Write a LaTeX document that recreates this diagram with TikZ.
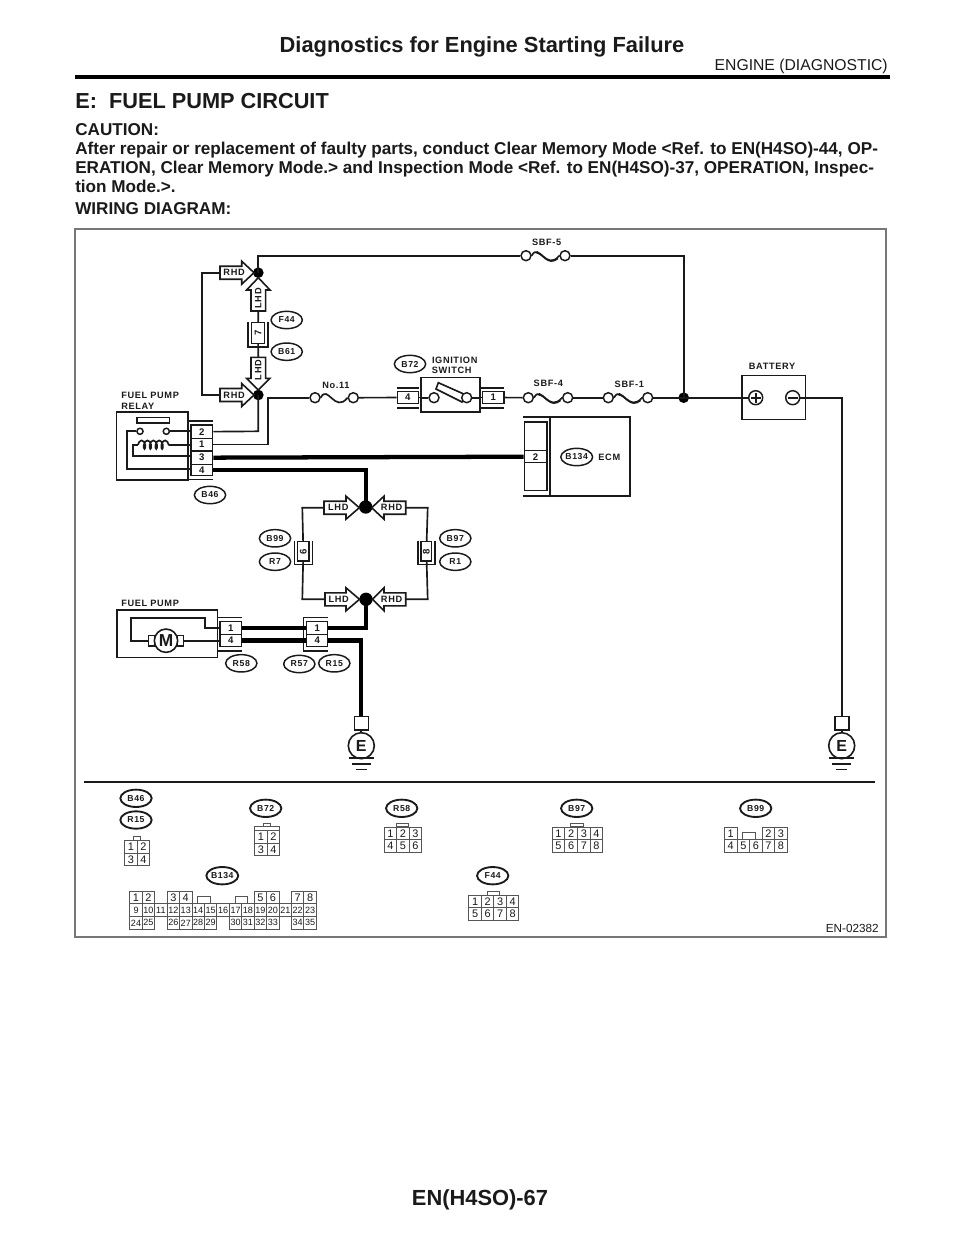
\documentclass[tikz,border=0pt]{standalone}
\usepackage{fontspec}
\setmainfont{Liberation Sans}
\newfontfamily\lblf[LetterSpace=7]{Liberation Sans}
\usetikzlibrary{decorations.pathmorphing,calc,shapes.geometric}
\definecolor{ink}{HTML}{1A1A1A}
\definecolor{gridc}{HTML}{555555}
\definecolor{framec}{HTML}{777777}
\newcommand\fs[1]{\fontsize{#1pt}{#1pt}\selectfont}
\tikzset{
  wire/.style={line width=1.25pt,draw=ink,line join=miter},
  fatwire/.style={line width=3.2pt,draw=black,line join=miter},
  shp/.style={line width=1.2pt,draw=ink,fill=white},
  txt/.style={inner sep=0pt,text=ink},
  lbl/.style={inner sep=0pt,text=ink,font=\lblf\bfseries\fs{6.9}},
  tag/.style={ellipse,draw=ink,line width=1.1pt,fill=white,inner sep=0pt,minimum width=23.5pt,minimum height=13pt,text=ink,font=\lblf\bfseries\fs{6.5}},
  btag/.style={tag,line width=1.4pt},
  pinb/.style={draw=ink,line width=1.1pt,fill=white,inner sep=0pt,text=ink,font=\bfseries\fs{7.2}},
  dot/.style={circle,fill=black,inner sep=0pt},
  ring/.style={circle,draw=ink,line width=1.1pt,fill=white,inner sep=0pt,minimum size=7.5pt},
  cellb/.style={draw=gridc,line width=.75pt,fill=white,inner sep=0pt,anchor=north west,text=ink},
  bar/.style={line width=1.2pt,draw=ink},
  body/.style={txt,font=\bfseries\fs{12.85},anchor=base west},
}
% rectangular pin node from corners
\newcommand\pinnode[6]{\node[pinb,minimum width={(#4-#2)*.75pt},minimum height={(#5-#3)*.75pt}] (#1) at ({(#2+#4)/2},{(#3+#5)/2}) {#6};}
\newcommand\vpinnode[6]{\node[pinb,minimum width={(#5-#3)*.75pt},minimum height={(#4-#2)*.75pt},rotate=90] (#1) at ({(#2+#4)/2},{(#3+#5)/2}) {#6};}
% horizontal arrow: name, tail, base, tip, y, label
\newcommand\harr[6]{%
 \draw[shp] (#2,#5-6.5) -- (#3,#5-6.5) -- (#3,#5-11.5) -- (#4,#5) -- (#3,#5+11.5) -- (#3,#5+6.5) -- (#2,#5+6.5) -- cycle;
 \coordinate (#1) at (#2,#5);
 \node[lbl] (#1-t) at ({#2+.65*(#3-#2)},#5) {#6};}
% vertical arrow: name, tail, base, tip, x, label
\newcommand\varr[6]{%
 \draw[shp] (#5-7.3,#2) -- (#5-7.3,#3) -- (#5-11.7,#3) -- (#5,#4) -- (#5+11.7,#3) -- (#5+7.3,#3) -- (#5+7.3,#2) -- cycle;
 \coordinate (#1) at (#5,#2);
 \node[lbl,rotate=90] (#1-t) at (#5,{#2+.6*(#3-#2)}) {#6};}
% fuse: name, x1, x2, y
\newcommand\fusecurve[4]{%
 \node[ring] (#1-a) at (#2,#4) {};
 \node[ring] (#1-b) at (#3,#4) {};
 \draw[wire] (#1-a.east) .. controls ({#2+.33*(#3-#2)},#4-14) and ({#2+.52*(#3-#2)},#4+16) .. (#1-b.west);}
\newcommand\fusedbl[4]{\fusecurve{#1}{#2}{#3}{#4}%
 \draw[wire,line width=.9pt] ({#2+.25*(#3-#2)},#4-3) .. controls ({#2+.45*(#3-#2)},#4-2) and ({#2+.55*(#3-#2)},#4+11) .. ({#2+.82*(#3-#2)},#4+3);}
% ground: name, x
\newcommand\gnd[2]{%
 \node[shp,inner sep=0pt,minimum width=10.5pt,minimum height=10pt,draw=ink] (#1-r) at (#2,723.3) {};
 \node[circle,draw=ink,line width=1.2pt,fill=white,inner sep=0pt,minimum size=19.5pt,text=ink,font=\bfseries\fs{12}] (#1-c) at (#2,745.7) {E};
 \draw[wire] (#2-12.5,758.3) -- (#2+12.5,758.3);
 \draw[wire] (#2-9.5,764) -- (#2+9.5,764);
 \draw[wire] (#2-5.5,769.4) -- (#2+5.5,769.4);}
% connector table: name, x0, y0, w, h, label/col/row list, font
\newcommand\tbl[7]{\foreach \nn/\cc/\rr in {#6}{%
 \node[cellb,font=#7,minimum width={#4*.75pt},minimum height={#5*.75pt}] (#1-\nn) at ({#2+\cc*#4},{#3+\rr*#5}) {\nn};}}
\begin{document}
\begin{tikzpicture}[x=.75pt,y=-.75pt]
\useasboundingbox (0,0) rectangle (960,1242);
\fill[white] (0,0) rectangle (960,1242);
% page header
\node[txt,font=\bfseries\fs{16.4},anchor=base] (title) at (482,52) {Diagnostics for Engine Starting Failure};
\node[txt,font=\fs{11.8},anchor=base east] (sect) at (888,70) {ENGINE (DIAGNOSTIC)};
\draw[line width=3pt,draw=black] (75,77.3) -- (890,77.3);
\node[txt,font=\bfseries\fs{16.3},anchor=base west] (head) at (75,108) {E:\ \ FUEL PUMP CIRCUIT};
\node[body] (t1) at (75,135) {CAUTION:};
\node[body] (t2) at (75,154) {After repair or replacement of faulty parts, conduct Clear Memory Mode <Ref. to EN(H4SO)-44, OP-};
\node[body] (t3) at (75,173) {ERATION, Clear Memory Mode.> and Inspection Mode <Ref. to EN(H4SO)-37, OPERATION, Inspec-};
\node[body] (t4) at (75,192) {tion Mode.>.};
\node[body] (t5) at (75,214.3) {WIRING DIAGRAM:};
\node[txt,font=\bfseries\fs{16.4},anchor=base] (foot) at (480,1205) {EN(H4SO)-67};
% frame
\draw[line width=.95pt,draw=framec] (75,229) rectangle (886,937);
\draw[line width=1.2pt,draw=ink] (84,781.7) -- (875,781.7);
\node[txt,font=\fs{8.8},anchor=east] (code) at (879,928) {EN-02382};

% ---- nodes: junctions
\node[dot,minimum size=8pt] (j1) at (258.3,272.7) {};
\node[dot,minimum size=8pt] (j2) at (258.3,395) {};
\node[dot,minimum size=8pt] (j3) at (683.7,397.7) {};
\node[dot,minimum size=10pt] (j4) at (365.7,507) {};
\node[dot,minimum size=10pt] (j5) at (366,599.3) {};

% arrows
\harr{aR1}{220}{241.7}{254}{272.7}{RHD}
\harr{aR2}{220}{241.7}{254}{395}{RHD}
\varr{aL1}{311}{290}{277.7}{258.3}{LHD}
\varr{aL2}{357.3}{378.3}{390}{258.3}{LHD}
\harr{aL3}{324}{346}{359.3}{507.7}{LHD}
\harr{aR3}{405.7}{384}{371.7}{507.7}{RHD}
\harr{aL4}{325}{346}{359.5}{599.3}{LHD}
\harr{aR4}{405.7}{384}{372.5}{599.3}{RHD}

% single connectors with side bars
\vpinnode{c7}{251.7}{322.7}{264.3}{343.3}{7}
\draw[bar] (247.7,321.7) -- (247.7,346.7) -- (267.7,346.7) -- (267.7,321.7);
\vpinnode{c6}{297.7}{541.7}{309}{561}{6}
\draw[bar] (294.3,540.7) -- (294.3,564.3) -- (312.3,564.3) -- (312.3,540.7);
\vpinnode{c8}{421}{541.7}{431.7}{561}{8}
\draw[bar] (417.7,540.7) -- (417.7,564.3) -- (435,564.3) -- (435,540.7);

% fuses
\fusecurve{f11}{315}{353.3}{397.7}
\fusedbl{f5}{526}{565}{255.7}
\fusedbl{f4}{528.3}{567.7}{397.7}
\fusedbl{f1}{608.3}{647.7}{397.7}

% ignition switch
\node[shp,draw=ink,inner sep=0pt,minimum width=44pt,minimum height=25.9pt] (ign) at (450.6,394.6) {};
\node[ring] (ignA) at (434,397.7) {};
\draw[shp] (438.3,382.7) -- (466,395) -- (462,402) -- (436,389) -- cycle;
\node[ring] (ignB) at (466.7,397.7) {};
\draw[wire] (ign.west |- ignA) -- (ignA);
\draw[wire] (ignB) -- (ign.east |- ignB);
\pinnode{ig4}{397.3}{391.7}{418.3}{403.3}{4}
\pinnode{ig1}{482.7}{391.7}{504}{403.3}{1}
\draw[bar] (397,387.7) -- (418.5,387.7) (397,407.7) -- (418.5,407.7);
\draw[bar] (480,387.7) -- (504,387.7) (480,407.7) -- (504,407.7);
\draw[wire] (ig4) -- (ign.west |- ig4) (ign.east |- ig1) -- (ig1);

% battery
\node[shp,draw=ink,inner sep=0pt,minimum width=47.7pt,minimum height=33pt] (bat) at (773.5,397.3) {};
\node[ring,minimum size=10.5pt] (batP) at (755.7,397.7) {};
\node[ring,minimum size=10.5pt] (batN) at (792.7,397.7) {};
\draw[wire] (750.7,397.7) -- (760.7,397.7) (755.7,392.7) -- (755.7,402.7);
\draw[wire] (787.7,397.7) -- (797.7,397.7);

% ECM
\draw[wire] (523.3,417.3) -- (630,417.3) -- (630,495.7) -- (523.3,495.7);
\draw[wire] (550,417.3) -- (550,495.7);
\node[shp,draw=ink,inner sep=0pt,minimum width=16.8pt,minimum height=51.7pt] (ecmc) at (535.5,456.2) {};
\pinnode{ecm2}{524.3}{450.7}{546.7}{462.7}{2}
\node[tag,minimum width=23.5pt] (tB134) at (576.7,457) {B134};
\node[lbl] (lECM) at (609.3,457) {ECM};

% relay
\node[shp,draw=ink,inner sep=0pt,minimum width=53.5pt,minimum height=51pt] (relay) at (152.3,446) {};
\draw[shp] (136.7,417.3) rectangle (169.3,423);
\pinnode{r2}{191}{425}{212.7}{438.3}{2}
\pinnode{r1}{191}{438.3}{212.7}{451}{1}
\pinnode{r3}{191}{451}{212.7}{464.3}{3}
\pinnode{r4}{191}{464.3}{212.7}{475.5}{4}
\draw[bar] (188,421) -- (212.7,421) (188,479.5) -- (212.7,479.5);
\node[ring,minimum size=4.6pt] (rc1) at (140,431.3) {};
\node[ring,minimum size=4.6pt] (rc2) at (166.3,431.3) {};
\coordinate (rw1) at (126.7,431.3);
\coordinate (rw2) at (126.7,468.7);
\coordinate (rw3) at (133,444.7);
\coordinate (rw4) at (133,456.3);
\coordinate (rw5) at (138,444.7);
\coordinate (rw6) at (169,444.7);
\draw[wire] (rc1) -- (rw1) -- (rw2) -- (r4.west |- rw2);
\draw[wire] (rc2) -- (r2.west |- rc2);
\draw[wire] (r3.west |- rw4) -- (rw4) -- (rw3) -- (rw5);
\draw[wire] (rw6) -- (r1.west |- rw6);
\draw[wire,decorate,decoration={coil,aspect=.5,segment length=4.4pt,amplitude=3.2pt}] (rw5) -- (rw6);

% fuel pump
\node[shp,draw=ink,inner sep=0pt,minimum width=75.5pt,minimum height=35.8pt] (pump) at (167.3,633.8) {};
\pinnode{p1}{220}{621.7}{241.7}{634.3}{1}
\pinnode{p4}{220}{634.3}{241.7}{646.7}{4}
\draw[bar] (217.7,617.3) -- (241.7,617.3) (217.7,651) -- (241.7,651);
\coordinate (pw1) at (205,627.7);
\coordinate (pw2) at (205,618.3);
\coordinate (pw3) at (130.7,618.3);
\coordinate (pw4) at (130.7,640.7);
\node[shp,draw=ink,inner sep=0pt,minimum width=5pt,minimum height=8pt] (mL) at (151.8,640.7) {};
\node[shp,draw=ink,inner sep=0pt,minimum width=5pt,minimum height=8pt] (mR) at (180.2,640.7) {};
\node[circle,draw=ink,line width=1.2pt,fill=white,inner sep=0pt,minimum size=17.5pt,text=ink,font=\bfseries\fs{13}] (motor) at (166,640.7) {M};
\draw[wire] (p1.west |- pw1) -- (pw1) -- (pw2) -- (pw3) -- (pw4) -- (mL.west);
\draw[wire] (mR.east) -- (p4.west |- mR);
\pinnode{q1}{306.7}{621.7}{327.7}{634.3}{1}
\pinnode{q4}{306.7}{634.3}{327.7}{646.7}{4}
\draw[bar] (303.3,617.3) -- (327.7,617.3) (303.3,651) -- (327.7,651) (303.3,617.3) -- (303.3,651);

% grounds
\gnd{g1}{361.3}
\gnd{g2}{841.7}

% ---- connectors
\coordinate (wtop) at (258.3,255.7);
\coordinate (wf5) at (683.7,255.7);
\coordinate (wl1) at (202,272.7);
\coordinate (wl2) at (202,395);
\coordinate (w1a) at (268.3,397.7);
\coordinate (w2a) at (258.3,431.3);
\coordinate (wb) at (841.7,397.7);
\coordinate (wd1) at (302.3,507.7);
\coordinate (wd2) at (302.3,599.3);
\coordinate (wr1) at (427.7,507.7);
\coordinate (wr2) at (427.7,599.3);
\draw[wire] (j1.center) -- (wtop) -- (f5-a);
\draw[wire] (f5-b) -- (wf5) -- (j3.center);
\draw[wire] (aR1) -- (wl1) -- (wl2) -- (aR2);
\draw[wire] (aL1) -- (c7);
\draw[wire] (c7) -- (aL2);
\draw[wire] (r2.east) -- (w2a) -- (j2.center);
\draw[wire] (r1.east) -- (r1.east -| w1a) -- (w1a) -- (f11-a);
\draw[wire] (f11-b) -- (ig4);
\draw[wire] (ig1) -- (f4-a);
\draw[wire] (f4-b) -- (f1-a);
\draw[wire] (f1-b) -- (batP.west |- f1-b);
\draw[wire] (batN.east) -- (wb) -- (g2-r.north);
\draw[wire] (aL3) -- (wd1) -- (c6);
\draw[wire] (c6) -- (wd2) -- (aL4);
\draw[wire] (aR3) -- (wr1) -- (c8);
\draw[wire] (c8) -- (wr2) -- (aR4);
\draw[fatwire] (r3.east) -- (ecm2.west);
\draw[fatwire] (r4.east) -- (r4.east -| j4) -- (j4.center);
\draw[fatwire] (p1.east) -- (q1.west);
\draw[fatwire] (p4.east) -- (q4.west);
\draw[fatwire] (q1.east) -- (q1.east -| j5) -- (j5.center);
\draw[fatwire] (q4.east) -- (q4.east -| g1-r) -- (g1-r.north);
\draw[wire] (g1-r.south) -- (g1-c.north);
\draw[wire] (g2-r.south) -- (g2-c.north);

% tags and labels
\node[tag] (tF44) at (286.7,320) {F44};
\node[tag] (tB61) at (286.7,351.7) {B61};
\node[tag] (tB72) at (410,364) {B72};
\node[tag] (tB46) at (210,495) {B46};
\node[tag] (tB99) at (275,538.3) {B99};
\node[tag] (tR7) at (275,561.7) {R7};
\node[tag] (tB97) at (455.3,538.3) {B97};
\node[tag] (tR1) at (455.3,561.7) {R1};
\node[tag] (tR58) at (241.3,663.3) {R58};
\node[tag] (tR57) at (299.3,664) {R57};
\node[tag] (tR15) at (334.3,663.3) {R15};
\node[lbl] (lS5) at (546.7,242.7) {SBF-5};
\node[lbl] (lS4) at (548.3,383.5) {SBF-4};
\node[lbl] (lS1) at (629.3,384.3) {SBF-1};
\node[lbl] (lN11) at (336,385) {No.11};
\node[lbl] (lIG) at (454.7,360) {IGNITION};
\node[lbl] (lSW) at (451.7,370.3) {SWITCH};
\node[lbl] (lBAT) at (772,366.7) {BATTERY};
\node[lbl,anchor=west] (lFP) at (121,395) {FUEL PUMP};
\node[lbl,anchor=west] (lRE) at (121,406) {RELAY};
\node[lbl,anchor=west] (lFP2) at (121,603.3) {FUEL PUMP};

% ---- connector layouts
\node[btag] (bB46) at (136,798.3) {B46};
\node[btag] (bR15) at (136,820) {R15};
\node[btag] (bB72) at (265.7,808.3) {B72};
\node[btag] (bR58) at (401.7,808.3) {R58};
\node[btag] (bB97) at (576.7,808.3) {B97};
\node[btag] (bB99) at (755.7,808.3) {B99};
\node[btag] (bB134) at (222.3,875.7) {B134};
\node[btag] (bF44) at (492.7,875.7) {F44};

\draw[cellb] (133.3,836.7) rectangle (140,840);
\tbl{k1}{124}{840}{12.65}{12.65}{1/0/0,2/1/0,3/0/1,4/1/1}{\fs{8.2}}
\draw[cellb] (263.3,823.3) rectangle (270,826.7);
\draw[cellb] (254,826.7) rectangle (279.2,830);
\tbl{k2}{254}{830}{12.6}{12.65}{1/0/0,2/1/0,3/0/1,4/1/1}{\fs{8.2}}
\draw[cellb] (396,823.3) rectangle (408.5,826.7);
\tbl{k3}{383.7}{826.7}{12.45}{12.65}{1/0/0,2/1/0,3/2/0,4/0/1,5/1/1,6/2/1}{\fs{8.2}}
\draw[cellb] (570.3,823.3) rectangle (583.7,826.7);
\tbl{k4}{551.7}{826.7}{12.65}{12.65}{1/0/0,2/1/0,3/2/0,4/3/0,5/0/1,6/1/1,7/2/1,8/3/1}{\fs{8.2}}
\draw[cellb] (742.3,832.3) rectangle (755.7,839.3);
\tbl{k5}{724}{826.7}{12.53}{12.65}{1/0/0,2/3/0,3/4/0,4/0/1,5/1/1,6/2/1,7/3/1,8/4/1}{\fs{8.2}}
\draw[cellb] (487.7,891.7) rectangle (499.7,895);
\tbl{k6}{468.3}{895}{12.5}{12.35}{1/0/0,2/1/0,3/2/0,4/3/0,5/0/1,6/1/1,7/2/1,8/3/1}{\fs{8.2}}
\draw[cellb] (197.3,896.7) rectangle (210.6,903.3);
\draw[cellb] (235,896.7) rectangle (247.6,903.3);
\tbl{k7}{129.3}{890.7}{12.44}{12.65}{1/0/0,2/1/0,3/3/0,4/4/0,5/10/0,6/11/0,7/13/0,8/14/0}{\fs{8.2}}
\tbl{k7}{129.3}{890.7}{12.44}{12.65}{9/0/1,10/1/1,11/2/1,12/3/1,13/4/1,14/5/1,15/6/1,16/7/1,17/8/1,18/9/1,19/10/1,20/11/1,21/12/1,22/13/1,23/14/1}{\fs{6.8}}
\tbl{k7}{129.3}{890.7}{12.44}{12.65}{24/0/2,25/1/2,26/3/2,27/4/2,28/5/2,29/6/2,30/8/2,31/9/2,32/10/2,33/11/2,34/13/2,35/14/2}{\fs{6.8}}
\end{tikzpicture}
\end{document}
